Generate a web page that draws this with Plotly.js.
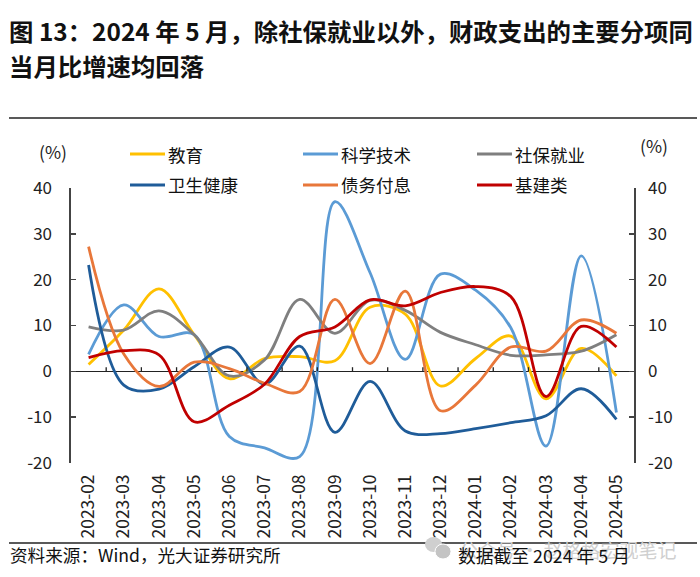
<!DOCTYPE html>
<html><head><meta charset="utf-8">
<script src="https://cdn.plot.ly/plotly-3.0.1.min.js"></script>
<style>html,body{margin:0;padding:0;background:#fff}#c{width:700px;height:577px}</style></head>
<body><div id="c"></div>
<script>
const months=["2023-02","2023-03","2023-04","2023-05","2023-06","2023-07","2023-08","2023-09","2023-10","2023-11","2023-12","2024-01","2024-02","2024-03","2024-04","2024-05"];
const education=[1.5,9,18,8,-1.6,2.8,3.2,2.3,14,12.5,-3.2,2.8,7.7,-6,5,-1];
const science=[3.7,14.5,7.6,8,-14.2,-16.7,-18.6,37,21.5,2.6,21.2,17.7,9.5,-16.3,25.2,-9];
const social=[9.7,9,13.2,8,-1,2.5,15.7,8.3,15.5,13.3,8.5,5.8,3.5,3.6,4.4,8];
const health=[23.2,-3,-3.9,1,5.3,-2.8,5.5,-13.3,-2.2,-13,-13.6,-12.5,-11.2,-9.7,-3.8,-10.5];
const debt=[27.2,3.8,-3.3,2,0.6,-2.6,-4.4,15.7,1.7,17.5,-8.6,-3,5.3,4.4,11.2,8.3];
const infra=[3,4.5,3.6,-11,-7.4,-2.8,7.6,9.7,15.6,14.3,17.2,18.5,16.3,-5.5,9.8,5.3];
const seriesNames=["教育","科学技术","社保就业","卫生健康","债务付息","基建类"];
const seriesVals=[education,science,social,health,debt,infra];
const colors=["#FFC000","#5B9BD5","#7F7F7F","#1F5C99","#E8773A","#C00000"];
const font='"Noto Sans CJK SC","Noto Sans",sans-serif';
const titleLines=["图 13：2024 年 5 月，除社保就业以外，财政支出的主要分项同","当月比增速均回落"];
const traces=seriesVals.map((v,i)=>({x:months,y:v,name:seriesNames[i],type:"scatter",mode:"lines",
  line:{color:colors[i],width:2.8,shape:"spline",smoothing:1},showlegend:false,hoverinfo:"skip"}));
traces.push({x:months,y:education,yaxis:"y2",type:"scatter",mode:"lines",line:{width:0},opacity:0,showlegend:false,hoverinfo:"skip"});
const T=(text,x,y,size,extra)=>Object.assign({text,x,y,xref:"paper",yref:"paper",showarrow:false,xanchor:"left",yanchor:"middle",font:{family:font,size,color:"#111"}},extra||{});
const W=700,H=577,L=71,R=634,TOP=188,BOT=463;
const px=x=>(x-L)/(R-L), py=y=>(BOT-y)/(BOT-TOP);
const bold={family:font,size:24.4,color:"#111",weight:700};
const annotations=[
 T(titleLines[0],px(7),py(30),24.4,{font:bold}),
 T(titleLines[1],px(7),py(65),24.4,{font:bold}),
 T("(%)",px(37),py(151),17.5,{font:{family:font,size:17.5,color:"#222"}}),
 T("(%)",px(638),py(146),17.5,{font:{family:font,size:17.5,color:"#222"}}),
 T("公众号 · 赵格格宏观笔记",px(457),py(549),19,{font:{family:font,size:19,color:"#cfcfcf"}}),
 T("资料来源：Wind，光大证券研究所",px(8),py(554),17.6),
 T("数据截至 2024 年 5 月",px(456),py(555),17.8)
];
const legendPos=[[130,166],[303,339],[477,513]];
const shapes=[
 {type:"line",xref:"paper",yref:"paper",x0:px(9),x1:px(697),y0:py(118),y1:py(118),line:{color:"#222",width:1.5}},
 {type:"line",xref:"paper",yref:"paper",x0:px(9),x1:px(697),y0:py(543),y1:py(543),line:{color:"#222",width:1.5}},
 {type:"circle",xref:"paper",yref:"paper",x0:px(425),x1:px(442),y0:py(537),y1:py(552),fillcolor:"#cfcfcf",line:{width:0}},
 {type:"circle",xref:"paper",yref:"paper",x0:px(435),x1:px(451),y0:py(544),y1:py(559),fillcolor:"#c4c4c4",line:{color:"#fff",width:1}}
];
months.slice(1).forEach((m,i)=>shapes.push({type:"line",xref:"x",yref:"y",x0:i+0.5,x1:i+0.5,y0:0,y1:0.9,line:{color:"#222",width:1.3}}));
seriesNames.forEach((n,i)=>{
  const col=i%3,row=Math.floor(i/3),yy=row?185:154;
  shapes.push({type:"line",xref:"paper",yref:"paper",x0:px(legendPos[col][0]),x1:px(legendPos[col][0]+35),y0:py(yy),y1:py(yy),line:{color:colors[i],width:2.8}});
  annotations.push(T(n,px(legendPos[col][1]),py(yy),17.5));
});
Plotly.newPlot("c",traces,{
  width:W,height:H,showlegend:false,paper_bgcolor:"#fff",plot_bgcolor:"#fff",
  margin:{l:L,r:W-R,t:TOP,b:H-BOT,pad:0},font:{family:font,color:"#111"},
  xaxis:{type:"category",categoryorder:"array",categoryarray:months,range:[-0.5,15.5],anchor:"y",position:0,
    showgrid:false,zeroline:false,showline:false,ticks:"",tickangle:-90,tickfont:{family:font,size:17.4,color:"#222"},ticklen:0,ticklabelstandoff:7,automargin:false},
  yaxis:{range:[-20,40],tickvals:[-20,-10,0,10,20,30,40],ticktext:["-20","-10","0","10","20","30","40"],showgrid:false,
    zeroline:true,zerolinecolor:"#222",zerolinewidth:1.6,showline:true,linecolor:"#444",linewidth:1.6,
    ticks:"inside",ticklen:5,tickwidth:1.5,tickcolor:"#444",tickfont:{family:font,size:17,color:"#222"},ticklabelstandoff:14,automargin:false},
  yaxis2:{overlaying:"y",side:"right",range:[-20,40],tickvals:[-20,-10,0,10,20,30,40],ticktext:["-20","-10","0","10","20","30","40"],showgrid:false,zeroline:false,
    showline:true,linecolor:"#444",linewidth:1.6,ticks:"inside",ticklen:5,tickwidth:1.5,tickcolor:"#444",tickfont:{family:font,size:17,color:"#222"},ticklabelstandoff:9,automargin:false},
  annotations,shapes
},{staticPlot:true,displayModeBar:false});
</script></body></html>
